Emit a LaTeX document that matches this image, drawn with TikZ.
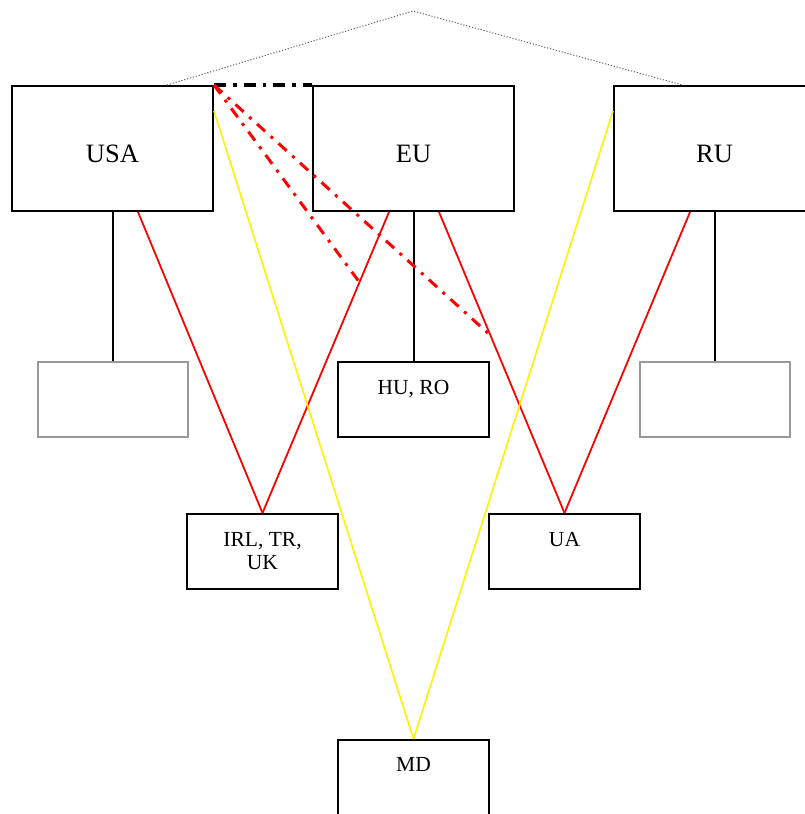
\documentclass[tikz,border=0pt]{standalone}
\usepackage{fontspec}
\setmainfont{Liberation Serif}
\usetikzlibrary{calc}
\begin{document}
\begin{tikzpicture}[x=1pt,y=-1pt,
  bigbox/.style={draw=black,line width=2pt,minimum width=201pt,minimum height=125pt,inner sep=0pt,fill=white},
  smallbox/.style={draw=black,line width=2pt,minimum width=151pt,minimum height=75pt,inner sep=0pt,fill=white},
  graybox/.style={draw=black!40,line width=2pt,minimum width=150pt,minimum height=75pt,inner sep=0pt},
  bigtxt/.style={anchor=base,inner sep=0pt,font=\fontsize{26.5}{30}\selectfont},
  smalltxt/.style={anchor=base,inner sep=0pt,font=\fontsize{21.5}{22.7}\selectfont},
  vline/.style={line width=2pt,black},
  redline/.style={line width=1.8pt,red},
  yelline/.style={line width=1.6pt,yellow},
  reddashdot/.style={line width=3pt,red,dash pattern=on 11pt off 7.5pt on 3pt off 7.5pt},
  blackdashdot/.style={line width=3.5pt,black,dash pattern=on 12pt off 7pt on 3.5pt off 7pt},
  dotline/.style={line width=1pt,black!60,dash pattern=on 1.2pt off 1.8pt}]
\useasboundingbox[fill=white] (0,0) rectangle (805,814);

% boxes
\node[bigbox] (usa) at (112.5,148.5) {};
\node[bigbox] (eu) at (413.5,148.5) {};
\node[bigbox] (ru) at (714.5,148.5) {};
\node[graybox] (gl) at (112.5,399.5) {};
\node[smallbox] (huro) at (413.5,399.5) {};
\node[graybox] (gr) at (714.5,399.5) {};
\node[smallbox] (irl) at (262.5,551.5) {};
\node[smallbox] (ua) at (564.5,551.5) {};
\node[smallbox] (md) at (413.5,777.5) {};

% texts
\node[bigtxt] (tusa) at (112.5,162) {USA};
\node[bigtxt] (teu) at (413.5,162) {EU};
\node[bigtxt] (tru) at (714.5,162) {RU};
\node[smalltxt] (thuro) at (413.5,394) {HU, RO};
\node[smalltxt] (tirl) at (262.5,546.5) {\begin{tabular}[t]{@{}c@{}}IRL, TR,\\UK\end{tabular}};
\node[smalltxt] (tua) at (564.5,546.5) {UA};
\node[smalltxt] (tmd) at (413.5,771) {MD};

% black verticals
\draw[vline] (usa.south) -- (gl.north);
\draw[vline] (eu.south) -- (huro.north);
\draw[vline] (ru.south) -- (gr.north);

% red lines
\draw[redline] ($(usa.south)+(25.5,0)$) -- (irl.north);
\draw[redline] ($(eu.south)+(-24.5,0)$) -- (irl.north);
\draw[redline] ($(eu.south)+(25.5,0)$) -- (ua.north);
\draw[redline] ($(ru.south)+(-24.5,0)$) -- (ua.north);

% yellow lines
\draw[yelline] ($(usa.north east)+(0,26)$) -- (md.north);
\draw[yelline] ($(ru.north west)+(0,26)$) -- (md.north);

% dotted top
\coordinate (peak) at (413,11);
\draw[dotline] ($(usa.north)+(54.5,0)$) -- (peak) -- ($(ru.north)+(-32,0)$);

% dash-dot
\draw[blackdashdot] (usa.north east) -- (eu.north west);
\coordinate (e1) at (360,283);
\coordinate (e2) at (490,335);
\draw[reddashdot] (usa.north east) -- (e1);
\draw[reddashdot] (usa.north east) -- (e2);
\end{tikzpicture}
\end{document}
